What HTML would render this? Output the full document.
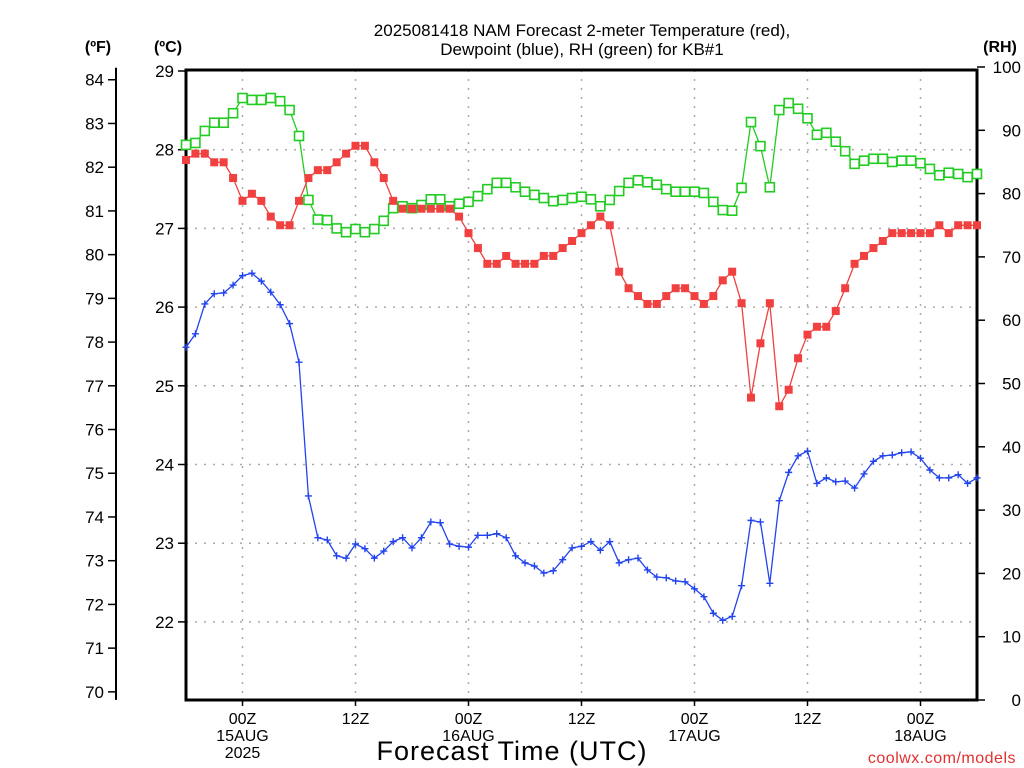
<!DOCTYPE html>
<html><head><meta charset="utf-8">
<style>
html,body{margin:0;padding:0;background:#fff;}
svg{display:block;font-family:"Liberation Sans",sans-serif;}
</style></head>
<body>
<svg id="chart" width="1024" height="768" viewBox="0 0 1024 768" xmlns="http://www.w3.org/2000/svg">
<g id="grid"></g>
<g id="axes"></g>
<g id="series"></g>
<text x="582" y="36" font-size="17" text-anchor="middle">2025081418 NAM Forecast 2-meter Temperature (red),</text>
<text x="582" y="55" font-size="17" text-anchor="middle">Dewpoint (blue), RH (green) for KB#1</text>
<text x="98" y="52" font-size="16" font-weight="bold" text-anchor="middle">(ºF)</text>
<text x="168" y="52" font-size="16" font-weight="bold" text-anchor="middle">(ºC)</text>
<text x="1000" y="52" font-size="16" font-weight="bold" text-anchor="middle">(RH)</text>
<text x="512" y="760" font-size="27" text-anchor="middle" letter-spacing="1">Forecast Time (UTC)</text>
<text x="1016" y="763" font-size="16" fill="#e03030" text-anchor="end" letter-spacing="0.5">coolwx.com/models</text>
</svg>
<script>
const hours = [];
for (let h = 0; h <= 84; h++) hours.push(h); // hours since 18Z 14AUG
const tempC = [27.87,27.95,27.95,27.84,27.84,27.64,27.35,27.44,27.35,27.15,27.04,27.04,27.35,27.64,27.74,27.74,27.84,27.95,28.05,28.05,27.84,27.64,27.35,27.25,27.25,27.25,27.25,27.25,27.25,27.15,26.94,26.75,26.55,26.55,26.65,26.55,26.55,26.55,26.65,26.65,26.75,26.84,26.94,27.04,27.15,27.04,26.45,26.24,26.14,26.04,26.04,26.14,26.24,26.24,26.14,26.04,26.14,26.34,26.45,26.05,24.85,25.54,26.05,24.74,24.95,25.35,25.65,25.75,25.75,25.95,26.24,26.55,26.65,26.75,26.84,26.94,26.94,26.94,26.94,26.94,27.04,26.94,27.04,27.04,27.04];
const dewC = [25.49,25.66,26.04,26.17,26.18,26.28,26.40,26.43,26.33,26.19,26.03,25.79,25.30,23.60,23.07,23.04,22.84,22.81,22.99,22.93,22.81,22.90,23.02,23.07,22.94,23.07,23.27,23.26,22.99,22.96,22.95,23.10,23.10,23.12,23.07,22.84,22.75,22.71,22.62,22.65,22.79,22.94,22.96,23.02,22.91,23.02,22.75,22.79,22.81,22.66,22.57,22.56,22.52,22.51,22.42,22.32,22.11,22.02,22.07,22.46,23.29,23.27,22.49,23.54,23.90,24.11,24.17,23.76,23.83,23.78,23.79,23.70,23.88,24.04,24.11,24.12,24.15,24.16,24.08,23.93,23.83,23.83,23.87,23.76,23.83];
const rh = [87.7,88.0,89.9,91.2,91.2,92.7,95.1,94.8,94.8,95.1,94.6,93.2,89.1,79.0,75.9,75.8,74.5,73.9,74.4,73.9,74.4,75.7,77.7,78.0,77.7,78.2,79.1,79.1,78.0,78.4,78.7,79.6,80.7,81.7,81.7,81.0,80.3,79.8,79.3,78.8,79.0,79.3,79.5,79.1,78.0,79.0,80.4,81.7,82.1,81.8,81.4,80.7,80.3,80.3,80.3,80.1,78.7,77.4,77.3,80.9,91.3,87.5,81.0,93.2,94.3,93.4,91.9,89.3,89.6,88.2,86.7,84.7,85.2,85.5,85.5,85.0,85.2,85.2,84.8,83.9,82.9,83.3,83.1,82.6,83.1];
const celsiusTicks = [22,23,24,25,26,27,28,29];
const fahrTicks = [70,71,72,73,74,75,76,77,78,79,80,81,82,83,84];
const rhTicks = [0,10,20,30,40,50,60,70,80,90,100];
const timeTickHours = [6,18,30,42,54,66,78];
const timeTickLabels = [["00Z","15AUG","2025"],["12Z"],["00Z","16AUG"],["12Z"],["00Z","17AUG"],["12Z"],["00Z","18AUG"]];

const L=186, R=977, T=70, B=700;
const xS = h => L + (h/84)*(R-L);
const yC = c => 71 + (29-c)*78.7;
const yF = f => yC((f-32)*5/9);
const yRH = v => 700 - v*6.33;
const NS="http://www.w3.org/2000/svg";
function mk(tag, attrs, parent){const e=document.createElementNS(NS,tag);for(const k in attrs)e.setAttribute(k,attrs[k]);parent.appendChild(e);return e;}
const grid=document.getElementById('grid'), axes=document.getElementById('axes'), series=document.getElementById('series');

celsiusTicks.forEach(c=>{
  if(c<29){const g=mk('line',{x1:L,x2:R,y1:yC(c),y2:yC(c),stroke:'#aaa','stroke-width':1.5,'stroke-dasharray':'2,7'},grid);
  
  }
  const t=mk('line',{x1:L-8,x2:L,y1:yC(c),y2:yC(c),stroke:'#000','stroke-width':1.5},axes);
  
  
  const tx=mk('text',{x:L-12,y:yC(c)+6,'font-size':17,'text-anchor':'end'},axes);
  tx.textContent=c;
  
  
});
timeTickHours.forEach((h,i)=>{
  const g=mk('line',{x1:xS(h),x2:xS(h),y1:T,y2:B,stroke:'#aaa','stroke-width':1.5,'stroke-dasharray':'2,7'},grid);
  
  
  const t=mk('line',{x1:xS(h),x2:xS(h),y1:B,y2:B+6,stroke:'#000','stroke-width':1.5},axes);
  
  
  timeTickLabels[i].forEach((s,j)=>{
    const tx=mk('text',{x:xS(h),y:724+j*17,'font-size':16,'text-anchor':'middle'},axes);
    tx.textContent=s;
    
    
  });
});
const fl=mk('line',{x1:116,x2:116,y1:yF(84)-12,y2:yF(70)+8,stroke:'#000','stroke-width':2},axes);


fahrTicks.forEach(f=>{
  const t=mk('line',{x1:108,x2:116,y1:yF(f),y2:yF(f),stroke:'#000','stroke-width':1.5},axes);
  
  
  const tx=mk('text',{x:104,y:yF(f)+6,'font-size':17,'text-anchor':'end'},axes);
  tx.textContent=f;
  
  
});
rhTicks.forEach(v=>{
  const t=mk('line',{x1:R,x2:R+8,y1:yRH(v),y2:yRH(v),stroke:'#000','stroke-width':1.5},axes);
  
  
  const tx=mk('text',{x:1021,y:yRH(v)+6,'font-size':17,'text-anchor':'end'},axes);
  tx.textContent=v;
  
  
});
const frame=mk('rect',{x:L,y:T,width:R-L,height:B-T,fill:'none',stroke:'#000','stroke-width':3},axes);



function drawLine(vals, yfun, color, name){
  const pts=vals.map((v,i)=>xS(hours[i]).toFixed(1)+','+yfun(v).toFixed(1)).join(' ');
  const p=mk('polyline',{points:pts,fill:'none',stroke:color,'stroke-width':1.3},series);
  
  
}
drawLine(rh,yRH,'#22cc22','rh-line');
drawLine(tempC,yC,'#f04040','temperature-line');
drawLine(dewC,yC,'#2244ee','dewpoint-line');
rh.forEach((v,i)=>{
  const m=mk('rect',{x:xS(hours[i])-4.5,y:yRH(v)-4.5,width:9,height:9,fill:'#fff',stroke:'#22cc22','stroke-width':1.6},series);
  
  
});
tempC.forEach((v,i)=>{
  const m=mk('rect',{x:xS(hours[i])-4,y:yC(v)-4,width:8,height:8,fill:'#f04040'},series);
  
  
});
dewC.forEach((v,i)=>{
  const x=xS(hours[i]), y=yC(v);
  const m=mk('path',{d:`M${x-3.5},${y}H${x+3.5}M${x},${y-3.5}V${y+3.5}`,stroke:'#2244ee','stroke-width':1.4},series);
  
  
});
</script>
</body></html>
